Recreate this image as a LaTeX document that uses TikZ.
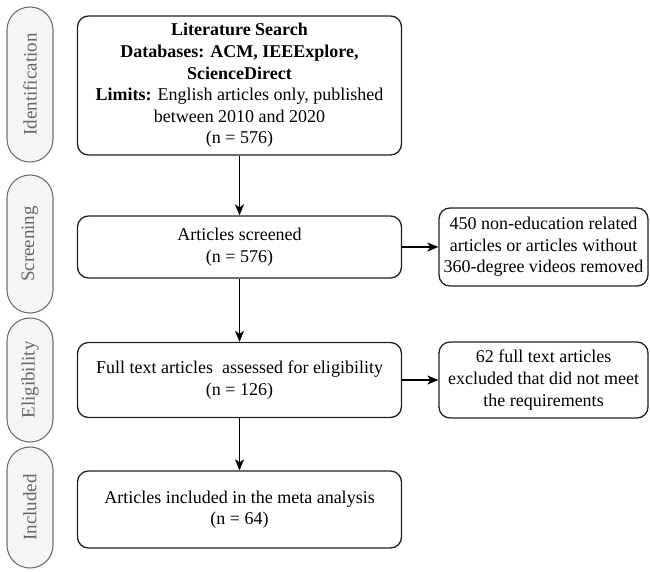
\documentclass[tikz,border=0pt]{standalone}
\usepackage{fontspec}
\setmainfont{Liberation Serif}
\usetikzlibrary{arrows.meta}
\definecolor{pillfill}{HTML}{F5F5F5}
\definecolor{pilltext}{HTML}{666666}
\definecolor{pillline}{HTML}{707070}
\definecolor{boxline}{HTML}{222222}
\begin{document}
\begin{tikzpicture}[x=1pt,y=-1pt,
  box/.style={draw=boxline, line width=1.3pt, rounded corners=11pt, align=center,
    font=\fontsize{18}{21.6}\selectfont, inner sep=0pt},
  pill/.style={draw=pillline, fill=pillfill, line width=1.1pt, rounded corners=22.9pt,
    rotate=90, minimum height=46pt, inner sep=0pt, text=pilltext,
    font=\fontsize{19}{22}\selectfont},
  arr/.style={draw=black, line width=1.3pt, -{Stealth[length=11pt,width=9pt,inset=3pt]}}]
\useasboundingbox (0,0) rectangle (650,571);
% phase pills
\node[pill, minimum width=155pt] (p1) at (30,84.5) {Identification};
\node[pill, minimum width=138pt] (p2) at (30,244) {Screening};
\node[pill, minimum width=124pt] (p3) at (30,380) {Eligibility};
\node[pill, minimum width=121pt] (p4) at (30,507.5) {Included};
% main boxes
\node[box, minimum width=324pt, minimum height=139pt] (b1) at (239.5,85.5)
  {\textbf{Literature Search}\\ \textbf{Databases: ACM, IEEExplore,}\\ \textbf{ScienceDirect}\\
   \textbf{Limits:} English articles only, published\\ between 2010 and 2020\\ (n = 576)};
\node[box, minimum width=324pt, minimum height=62pt] (b2) at (239.5,247)
  {Articles screened\\ (n = 576)};
\node[box, minimum width=324pt, minimum height=75pt] (b3) at (239.5,380)
  {Full text articles\ \ assessed for eligibility\\ (n = 126)};
\node[box, minimum width=324pt, minimum height=77pt] (b4) at (239.5,509.5)
  {Articles included in the meta analysis\\ (n = 64)};
% side boxes
\node[box, minimum width=209pt, minimum height=78pt] (r1) at (543.5,247)
  {450 non-education related\\ articles or articles without\\ 360-degree videos removed};
\node[box, minimum width=209pt, minimum height=76pt] (r2) at (543.5,380)
  {62 full text articles\\ excluded that did not meet\\ the requirements};
% connectors
\draw[arr] (b1) -- (b2);
\draw[arr] (b2) -- (b3);
\draw[arr] (b3) -- (b4);
\draw[arr] (b2) -- (r1);
\draw[arr] (b3) -- (r2);
\end{tikzpicture}
\end{document}
